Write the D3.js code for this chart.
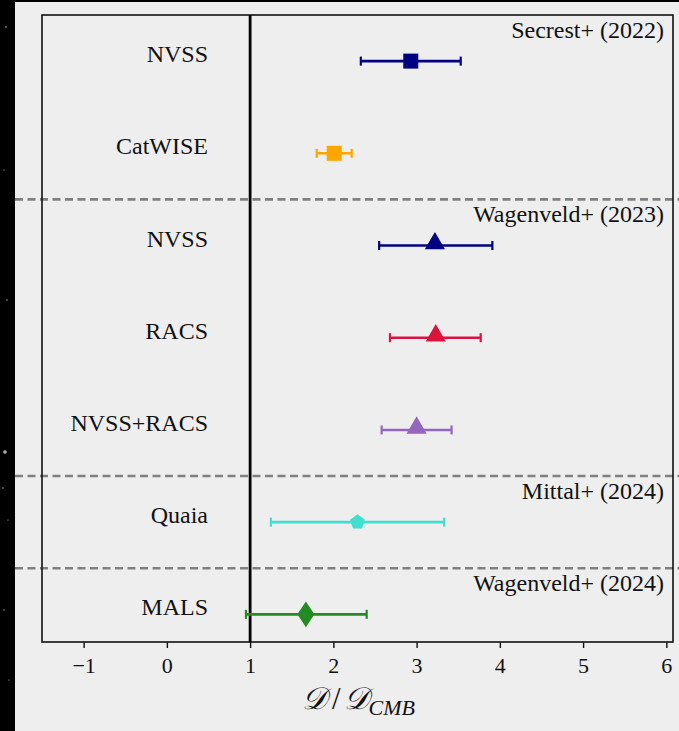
<!DOCTYPE html>
<html>
<head>
<meta charset="utf-8">
<script src="https://cdn.jsdelivr.net/npm/d3@7"></script>
<style>
  html, body { margin: 0; padding: 0; background: #000; }
  svg { display: block; }
</style>
</head>
<body>
<svg id="chart" width="679" height="731"></svg>
<script>
// Dipole amplitude ratio measurements, top to bottom
const surveys   = ["NVSS", "CatWISE", "NVSS", "RACS", "NVSS+RACS", "Quaia", "MALS"];
const ratio     = [2.93, 2.01, 3.22, 3.23, 3.00, 2.29, 1.67];
const errLow    = [2.33, 1.80, 2.55, 2.68, 2.58, 1.25, 0.95];
const errHigh   = [3.53, 2.22, 3.91, 3.77, 3.42, 3.33, 2.40];
const colors    = ["#000080", "#FFA500", "#000080", "#DC143C", "#9467bd", "#40E0D0", "#228B22"];
const markers   = ["square", "square", "triangle", "triangle", "triangle", "pentagon", "diamond"];

// Publications grouping the measurements
const studies     = ["Secrest+ (2022)", "Wagenveld+ (2023)", "Mittal+ (2024)", "Wagenveld+ (2024)"];
const studyStart  = [0, 2, 5, 6];

const xTicks = [-1, 0, 1, 2, 3, 4, 5, 6];

const svg = d3.select("#chart");
const W = 679, H = 731;
const panel = { x: 15, y: 2 };
const plot = { left: 42, right: 673, top: 15, bottom: 642 };
const serif = "'Liberation Serif', 'DejaVu Serif', serif";

// dark backdrop with a few faint stars on the left edge
svg.append("rect").attr("width", W).attr("height", H).attr("fill", "#000");
const stars = [[6, 27, 0.8], [4, 170, 0.6], [7, 300, 0.7], [5, 452, 1.8], [3, 488, 0.7], [8, 520, 0.6], [4, 610, 0.7], [9, 680, 0.6]];
svg.selectAll("circle.star").data(stars).join("circle")
  .attr("class", "star").attr("cx", d => d[0]).attr("cy", d => d[1]).attr("r", d => d[2])
  .attr("fill", "#ddd").attr("opacity", 0.8);

svg.append("rect").attr("x", panel.x).attr("y", panel.y)
  .attr("width", W - panel.x).attr("height", H - panel.y).attr("fill", "#eeeeee");

const x = d3.scaleLinear().domain([-1.5, 6.08]).range([plot.left, plot.right]);
const y = d3.scaleLinear().domain([-0.5, 6.3]).range([plot.top, plot.bottom]);

// group separators
const separators = studyStart.slice(1).map(s => s - 0.5);
svg.selectAll("line.sep").data(separators).join("line")
  .attr("class", "sep")
  .attr("x1", panel.x).attr("x2", W)
  .attr("y1", d => y(d)).attr("y2", d => y(d))
  .attr("stroke", "#808080").attr("stroke-width", 2.6).attr("stroke-dasharray", "8,4.5");

// reference line at D = D_CMB
svg.append("line")
  .attr("x1", x(1)).attr("x2", x(1))
  .attr("y1", plot.top).attr("y2", plot.bottom)
  .attr("stroke", "#000").attr("stroke-width", 2.8);

// error bars
const g = svg.append("g");
const rows = surveys.map((s, i) => ({ s, i, v: ratio[i], lo: errLow[i], hi: errHigh[i], c: colors[i], m: markers[i] }));

g.selectAll("line.err").data(rows).join("line")
  .attr("x1", d => x(d.lo)).attr("x2", d => x(d.hi))
  .attr("y1", d => y(d.i)).attr("y2", d => y(d.i))
  .attr("stroke", d => d.c).attr("stroke-width", 2.6);

["lo", "hi"].forEach(k => {
  g.selectAll("line.cap-" + k).data(rows).join("line")
    .attr("class", "cap-" + k)
    .attr("x1", d => x(d[k])).attr("x2", d => x(d[k]))
    .attr("y1", d => y(d.i) - 4.5).attr("y2", d => y(d.i) + 4.5)
    .attr("stroke", d => d.c).attr("stroke-width", 2.2);
});

const symbolType = { square: d3.symbolSquare, triangle: d3.symbolTriangle, diamond: d3.symbolDiamond };
const symbolSize = { square: 225, triangle: 175, diamond: 190 };
function pentagonPath(r) {
  const pts = d3.range(5).map(k => {
    const a = -Math.PI / 2 + k * 2 * Math.PI / 5;
    return [r * Math.cos(a), r * Math.sin(a)];
  });
  return d3.line()(pts) + "Z";
}
g.selectAll("path.mk").data(rows).join("path")
  .attr("class", "mk")
  .attr("d", d => d.m === "pentagon" ? pentagonPath(7.8) : d3.symbol(symbolType[d.m], symbolSize[d.m])())
  .attr("transform", d => {
    const base = `translate(${x(d.v)},${y(d.i) + (d.m === "triangle" ? -2 : 0)})`;
    return d.m === "diamond" ? base + " scale(1.15,1)" : base;
  })
  .attr("fill", d => d.c);

// survey labels
svg.selectAll("text.lab").data(rows).join("text")
  .attr("x", 208).attr("y", d => y(d.i) + 1)
  .attr("text-anchor", "end")
  .attr("font-family", serif).attr("font-size", 24)
  .attr("fill", "#111")
  .text(d => d.s);

// study annotations
svg.selectAll("text.study").data(studies).join("text")
  .attr("x", 664).attr("y", (d, i) => y(studyStart[i] - 0.5) + 23)
  .attr("text-anchor", "end")
  .attr("font-family", serif).attr("font-size", 24)
  .attr("fill", "#111")
  .text(d => d);

// frame
svg.append("rect")
  .attr("x", plot.left).attr("y", plot.top)
  .attr("width", plot.right - plot.left).attr("height", plot.bottom - plot.top)
  .attr("fill", "none").attr("stroke", "#111").attr("stroke-width", 1.6);

// x axis
const axis = svg.append("g")
  .attr("transform", `translate(0,${plot.bottom})`)
  .call(d3.axisBottom(x).tickValues(xTicks).tickSize(6).tickPadding(9)
    .tickFormat(d => d < 0 ? "\u2212" + Math.abs(d) : String(d)));
axis.select(".domain").remove();
axis.selectAll(".tick line").attr("stroke", "#111").attr("stroke-width", 1.4);
axis.selectAll(".tick text")
  .attr("font-family", serif).attr("font-size", 22).attr("fill", "#111");

// axis title: D / D_CMB
const title = svg.append("text")
  .attr("x", (plot.left + plot.right) / 2 + 1).attr("y", 709)
  .attr("text-anchor", "middle")
  .attr("font-family", serif).attr("font-size", 31).attr("fill", "#111");
title.append("tspan").attr("font-style", "italic").text("\uD835\uDC9F");
title.append("tspan").attr("dx", 5).text("/");
title.append("tspan").attr("dx", 3).attr("font-style", "italic").text("\uD835\uDC9F");
title.append("tspan").attr("font-style", "italic").attr("font-size", 22).attr("dy", 6).text("CMB");
</script>
</body>
</html>
